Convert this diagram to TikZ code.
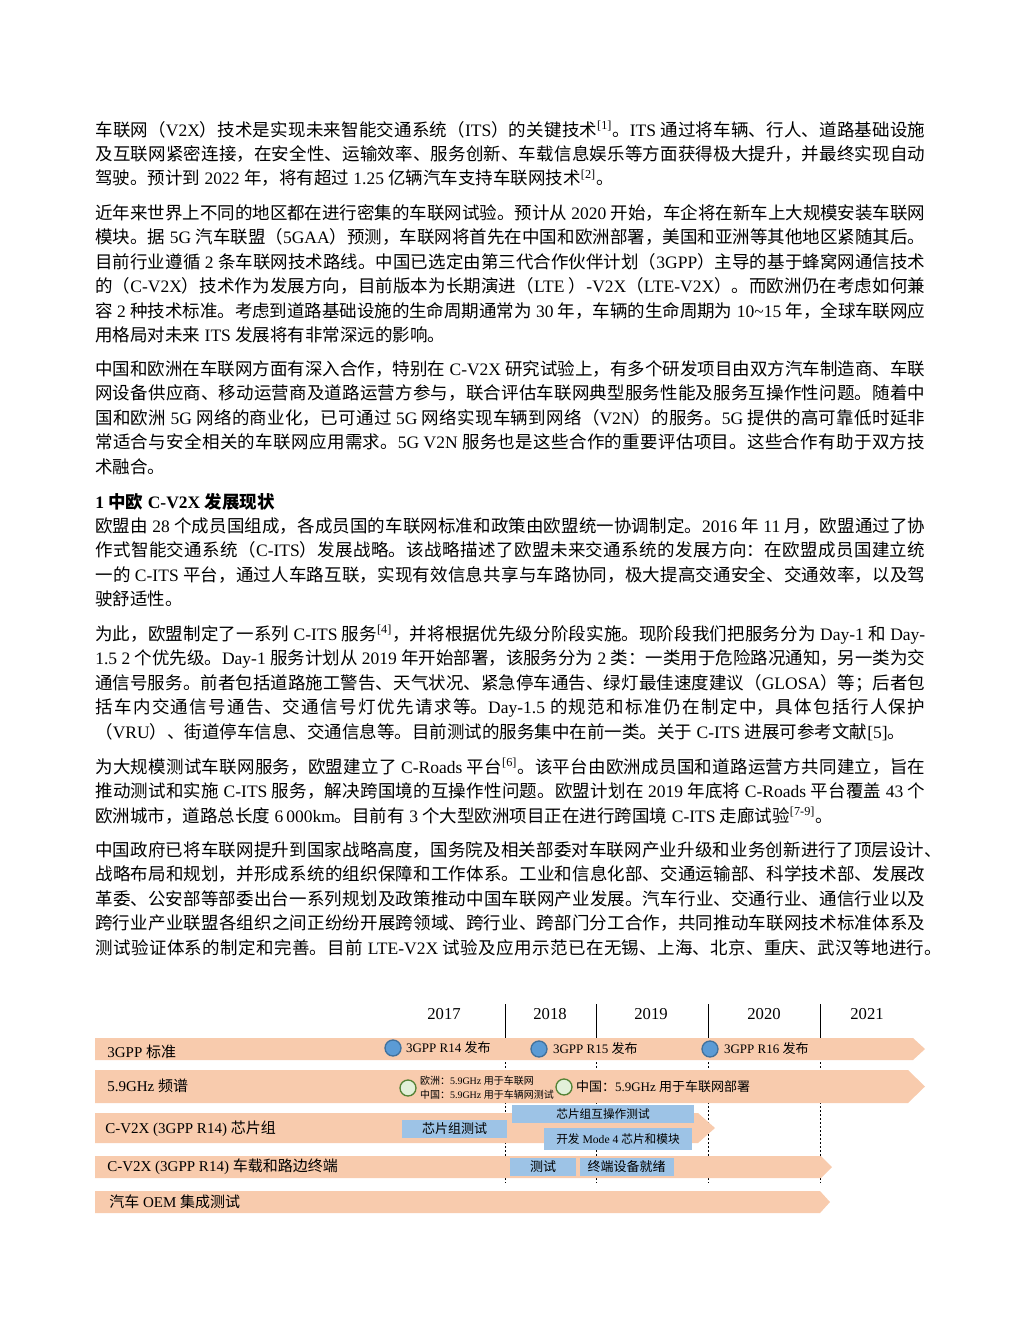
\documentclass[tikz,border=0pt]{standalone}
\usepackage{fontspec}
\setmainfont{Liberation Serif}
\newfontfamily\cjk{Noto Sans CJK SC}
\usetikzlibrary{positioning}

\definecolor{barpeach}{HTML}{F8CBAD}
\definecolor{boxblue}{HTML}{9DC3E6}
\definecolor{dotblue}{HTML}{5B9BD5}
\definecolor{dotblueline}{HTML}{41719C}
\definecolor{dotgreen}{HTML}{E2F0D9}
\definecolor{dotgreenline}{HTML}{548235}

\makeatletter
\ifdefined\newXeTeXintercharclass \newXeTeXintercharclass\cjkclass \else \chardef\cjkclass=1 \fi
\def\setcjkrange#1#2{\count@=#1\relax
  \loop\XeTeXcharclass\count@=\cjkclass
  \ifnum\count@<#2\relax\advance\count@\@ne\repeat}
\setcjkrange{"3000}{"303F}
\setcjkrange{"4E00}{"9FFF}
\setcjkrange{"FF00}{"FFEF}
\makeatother
\XeTeXinterchartoks 0 \cjkclass = {\cjk}
\XeTeXinterchartoks 4095 \cjkclass = {\cjk}
\XeTeXinterchartoks \cjkclass 0 = {\rmfamily}
\XeTeXinterchartoks \cjkclass 4095 = {\rmfamily}
\XeTeXinterchartokenstate=1
\XeTeXlinebreaklocale "zh"
\XeTeXlinebreakskip=0pt plus 3pt minus 1pt
\tolerance=10000 \hbadness=10000 \hfuzz=3pt

\tikzset{
  para/.style={anchor=base west, inner sep=0pt, text width=498pt, align=justify,
    font=\fontsize{10.5}{14.67}\selectfont},
  barlabel/.style={anchor=west, inner sep=0pt, font=\fontsize{9}{10}\selectfont},
  year/.style={inner sep=0pt, font=\fontsize{10}{12}\selectfont},
  task/.style={fill=boxblue, inner sep=0pt, font=\fontsize{7.8}{9}\selectfont},
  milestone/.style={circle, minimum size=9.6pt, inner sep=0pt, line width=0.8pt},
  release/.style={milestone, fill=dotblue, draw=dotblueline},
  spectrum/.style={milestone, fill=dotgreen, draw=dotgreenline},
  note/.style={anchor=west, inner sep=0pt, font=\fontsize{7.8}{9}\selectfont},
  yearline/.style={line width=0.6pt}
}

\begin{document}
\begin{tikzpicture}[x=0.6pt, y=-0.6pt]
    \useasboundingbox (0,0) rectangle (1020,1320);

    \node[para] (p1) at (95,136) {%
车联网（V2X）技术是实现未来智能交通系统（ITS）的关键技术\textsuperscript{[1]}。ITS 通过将车辆、行人、道路基础设施\linebreak
及互联网紧密连接，在安全性、运输效率、服务创新、车载信息娱乐等方面获得极大提升，并最终实现自动\linebreak
驾驶。预计到 2022 年，将有超过 1.25 亿辆汽车支持车联网技术\textsuperscript{[2]}。};

    \node[para] (p2) at (95,219.5) {%
近年来世界上不同的地区都在进行密集的车联网试验。预计从 2020 开始，车企将在新车上大规模安装车联网\linebreak
模块。据 5G 汽车联盟（5GAA）预测，车联网将首先在中国和欧洲部署，美国和亚洲等其他地区紧随其后。\linebreak
目前行业遵循 2 条车联网技术路线。中国已选定由第三代合作伙伴计划（3GPP）主导的基于蜂窝网通信技术\linebreak
的（C-V2X）技术作为发展方向，目前版本为长期演进（LTE ）-V2X（LTE-V2X）。而欧洲仍在考虑如何兼\linebreak
容 2 种技术标准。考虑到道路基础设施的生命周期通常为 30 年，车辆的生命周期为 10\textasciitilde 15 年，全球车联网应\linebreak
用格局对未来 ITS 发展将有非常深远的影响。};

    \node[para] (p3) at (95,375.5) {%
中国和欧洲在车联网方面有深入合作，特别在 C-V2X 研究试验上，有多个研发项目由双方汽车制造商、车联\linebreak
网设备供应商、移动运营商及道路运营方参与，联合评估车联网典型服务性能及服务互操作性问题。随着中\linebreak
国和欧洲 5G 网络的商业化，已可通过 5G 网络实现车辆到网络（V2N）的服务。5G 提供的高可靠低时延非\linebreak
常适合与安全相关的车联网应用需求。5G V2N 服务也是这些合作的重要评估项目。这些合作有助于双方技\linebreak
术融合。};

    \node[para, font=\fontsize{10.5}{14.67}\selectfont\bfseries] (h1) at (95,508.5) {1 中欧 C-V2X 发展现状};

    \node[para] (p4) at (95,532.5) {%
欧盟由 28 个成员国组成，各成员国的车联网标准和政策由欧盟统一协调制定。2016 年 11 月，欧盟通过了协\linebreak
作式智能交通系统（C-ITS）发展战略。该战略描述了欧盟未来交通系统的发展方向：在欧盟成员国建立统\linebreak
一的 C-ITS 平台，通过人车路互联，实现有效信息共享与车路协同，极大提高交通安全、交通效率，以及驾\linebreak
驶舒适性。};

    \node[para] (p5) at (95,640.5) {%
为此，欧盟制定了一系列 C-ITS 服务\textsuperscript{[4]}，并将根据优先级分阶段实施。现阶段我们把服务分为 Day-1 和 Day-\linebreak
1.5 2 个优先级。Day-1 服务计划从 2019 年开始部署，该服务分为 2 类：一类用于危险路况通知，另一类为交\linebreak
通信号服务。前者包括道路施工警告、天气状况、紧急停车通告、绿灯最佳速度建议（GLOSA）等；后者包\linebreak
括车内交通信号通告、交通信号灯优先请求等。Day-1.5 的规范和标准仍在制定中，具体包括行人保护\linebreak
（VRU）、街道停车信息、交通信息等。目前测试的服务集中在前一类。关于 C-ITS 进展可参考文献[5]。};

    \node[para] (p6) at (95,773.5) {%
为大规模测试车联网服务，欧盟建立了 C-Roads 平台\textsuperscript{[6]}。该平台由欧洲成员国和道路运营方共同建立，旨在\linebreak
推动测试和实施 C-ITS 服务，解决跨国境的互操作性问题。欧盟计划在 2019 年底将 C-Roads 平台覆盖 43 个\linebreak
欧洲城市，道路总长度 6\,000km。目前有 3 个大型欧洲项目正在进行跨国境 C-ITS 走廊试验\textsuperscript{[7-9]}。};

    \node[para] (p7) at (95,856.5) {%
中国政府已将车联网提升到国家战略高度，国务院及相关部委对车联网产业升级和业务创新进行了顶层设计、\kern-10pt\linebreak
战略布局和规划，并形成系统的组织保障和工作体系。工业和信息化部、交通运输部、科学技术部、发展改\linebreak
革委、公安部等部委出台一系列规划及政策推动中国车联网产业发展。汽车行业、交通行业、通信行业以及\linebreak
跨行业产业联盟各组织之间正纷纷开展跨领域、跨行业、跨部门分工合作，共同推动车联网技术标准体系及\linebreak
测试验证体系的制定和完善。目前 LTE-V2X 试验及应用示范已在无锡、上海、北京、重庆、武汉等地进行。\kern-10pt\linebreak};

    % timeline
    \foreach \x in {505,596,708,820}
        \draw[yearline, dash pattern=on 1.2pt off 1.2pt] (\x,1038) -- (\x,1183);
    \foreach \ytop/\ybot/\xend/\xtip in {1038/1060/913/925, 1070/1103/908/925,
        1113/1143/698/715, 1156/1178/821/832, 1191/1213/820/830}
        \fill[barpeach] (95,\ytop) -- (\xend,\ytop) -- (\xtip,{(\ytop+\ybot)/2})
            -- (\xend,\ybot) -- (95,\ybot) -- cycle;
    \foreach \x in {505,596,708,820}
        \draw[yearline] (\x,1004) -- (\x,1038);

    \node[year] (y2017) at (444,1014) {2017};
    \node[year] (y2018) at (550,1014) {2018};
    \node[year] (y2019) at (651,1014) {2019};
    \node[year] (y2020) at (764,1014) {2020};
    \node[year] (y2021) at (867,1014) {2021};

    \node[barlabel] (std)  at (107,1052) {3GPP 标准};
    \node[barlabel] (spec) at (107,1086) {5.9GHz 频谱};
    \node[barlabel] (chip) at (105,1129) {C-V2X (3GPP R14) 芯片组};
    \node[barlabel] (term) at (107,1167) {C-V2X (3GPP R14) 车载和路边终端};
    \node[barlabel] (oem)  at (109,1202) {汽车 OEM 集成测试};

    \node[release] (r14) at (393,1048) {};
    \node[release] (r15) at (539,1049) {};
    \node[release] (r16) at (710,1049) {};
    \node[note, right=2.4pt of r14] (r14txt) {3GPP R14 发布};
    \node[note, right=3pt of r15] (r15txt) {3GPP R15 发布};
    \node[note, right=3pt of r16] (r16txt) {3GPP R16 发布};

    \node[spectrum] (eu) at (408,1088) {};
    \node[spectrum] (cn) at (564,1087) {};
    \node[note, right=1.8pt of eu, align=left, font=\fontsize{6}{8.6}\selectfont] (eutxt)
        {欧洲：5.9GHz 用于车联网\\中国：5.9GHz 用于车辆网测试};
    \node[note, right=1.8pt of cn] (cntxt) {中国：5.9GHz 用于车联网部署};

    \node[task, minimum width=63pt, minimum height=10.8pt] (chiptest) at (454.5,1129) {芯片组测试};
    \node[task, minimum width=109.2pt, minimum height=10.8pt, font=\fontsize{7}{8}\selectfont]
        (interop) at (603,1114) {芯片组互操作测试};
    \node[task, minimum width=88.8pt, minimum height=13.2pt, font=\fontsize{7}{8}\selectfont]
        (mode4) at (618,1139) {开发 Mode 4 芯片和模块};
    \node[task, minimum width=39.6pt, minimum height=10.8pt] (termtest) at (543,1167) {测试};
    \node[task, minimum width=56.4pt, minimum height=10.8pt, right=1.8pt of termtest]
        (termready) {终端设备就绪};
\end{tikzpicture}
\end{document}
